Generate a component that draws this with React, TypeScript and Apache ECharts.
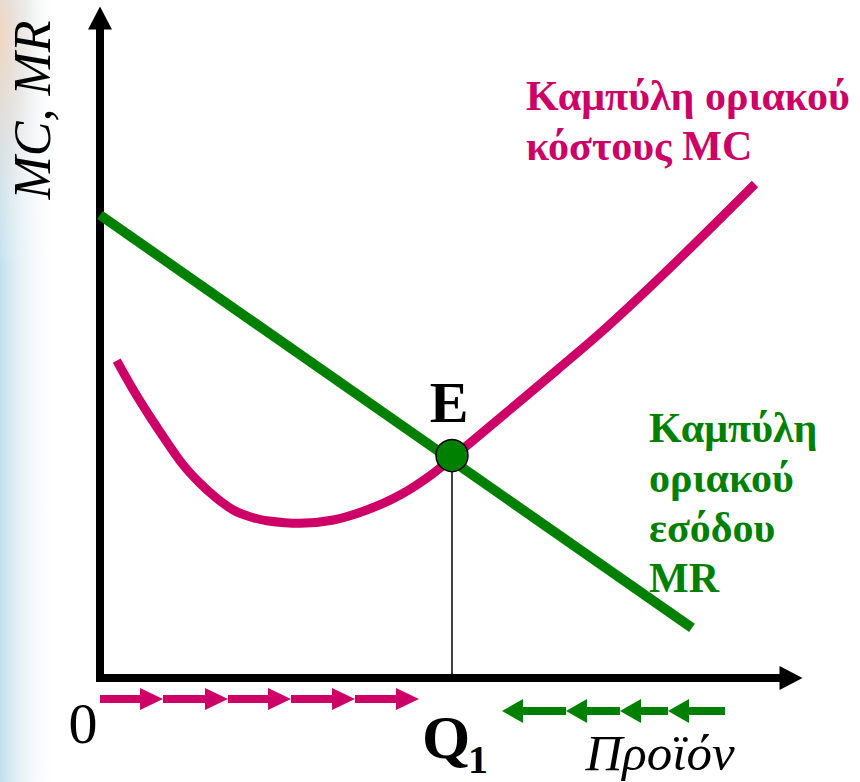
import React, { useEffect, useRef } from "react";
import * as echarts from "echarts";

// ---- data (abstract units: x 0..100, y 0..100) ----
const mrPoints: number[][] = [
  [0, 70.15],
  [85.67, 7.58],
];
const mcPoints: number[][] = [
  [2.42, 48.08],
  [4.82, 43.64],
  [7.24, 39.59],
  [9.65, 35.8],
  [12.05, 32.27],
  [14.47, 29.5],
  [16.89, 27.23],
  [19.29, 25.45],
  [21.71, 24.44],
  [24.12, 23.83],
  [28.94, 23.44],
  [33.76, 23.94],
  [38.6, 25.45],
  [43.42, 27.73],
  [48.23, 31.02],
  [53.55, 35.61],
  [59.77, 41.06],
  [66.14, 46.67],
  [73.37, 53.18],
  [82.92, 62.58],
  [94.79, 74.85],
];
const equilibrium: number[] = [50.94, 33.7];
const q1Value = 50.94;
// arrows: [from x, to x, y]
const costArrows: number[][] = [
  [0, 9.12, -3.18],
  [9.12, 18.52, -3.18],
  [18.52, 27.64, -3.18],
  [27.64, 36.9, -3.18],
  [36.9, 46.16, -3.18],
];
const revenueArrows: number[][] = [
  [90.45, 82.2, -5.0],
  [82.2, 75.25, -5.0],
  [75.25, 67.44, -5.0],
  [67.44, 58.18, -5.0],
];
const yAxisTitle = "MC, MR";
const xAxisTitle = "Προϊόν";
const originLabel = "0";
const qLabel = "Q";
const qSub = "1";
const eLabel = "E";
const mcLabelLines = ["Καμπύλη οριακού", "κόστους MC"];
const mrLabelLines = ["Καμπύλη", "οριακού", "εσόδου", "MR"];

const MAGENTA = "#CC0066";
const GREEN = "#008000";
const FONT = "Liberation Serif";

function arrowRenderer(color: string, head: number, half: number) {
  return (params: any, api: any) => {
    const x0 = api.value(0);
    const x1 = api.value(1);
    const y = api.value(2);
    const p0 = api.coord([x0, y]);
    const p1 = api.coord([x1, y]);
    const dir = Math.sign(p1[0] - p0[0]) || 1;
    const base = p1[0] - dir * head;
    return {
      type: "group",
      children: [
        {
          type: "line",
          shape: { x1: p0[0], y1: p0[1], x2: base, y2: p1[1] },
          style: { stroke: color, lineWidth: 8 },
        },
        {
          type: "polygon",
          shape: {
            points: [
              [p1[0], p1[1]],
              [base, p1[1] - half],
              [base, p1[1] + half],
            ],
          },
          style: { fill: color },
        },
      ],
    };
  };
}

function textEl(
  text: string,
  x: number,
  y: number,
  size: number,
  weight: string,
  fontStyle: string,
  fill: string,
  align = "center",
  extra: any = {}
) {
  return {
    type: "text",
    x,
    y,
    ...extra,
    style: {
      text,
      fontFamily: FONT,
      fontSize: size,
      fontWeight: weight,
      fontStyle,
      fill,
      align,
      verticalAlign: "middle",
    },
  };
}

export default function App() {
  const ref = useRef<HTMLDivElement>(null);
  useEffect(() => {
    document.body.style.margin = "0";
    const chart = echarts.init(ref.current!, null, { renderer: "svg" });
    const graphics: any[] = [
      {
        type: "rect",
        z: -10,
        shape: { x: 0, y: 0, width: 60, height: 782 },
        style: {
          fill: new echarts.graphic.LinearGradient(0, 0, 1, 0, [
            { offset: 0, color: "rgba(190,222,235,0.95)" },
            { offset: 0.35, color: "rgba(215,234,242,0.6)" },
            { offset: 1, color: "rgba(255,255,255,0)" },
          ]),
        },
      },
      {
        type: "rect",
        z: -9,
        shape: { x: 0, y: 0, width: 60, height: 260 },
        style: {
          fill: new echarts.graphic.RadialGradient(0, 0.15, 0.9, [
            { offset: 0, color: "rgba(244,214,190,0.95)" },
            { offset: 0.5, color: "rgba(235,225,220,0.5)" },
            { offset: 1, color: "rgba(255,255,255,0)" },
          ]),
        },
      },
      textEl(yAxisTitle, 32.5, 110, 52, "normal", "italic", "#000", "center", { rotation: Math.PI / 2 }),
      textEl(originLabel, 83, 723, 58, "normal", "normal", "#000"),
      textEl(qLabel, 446, 737, 62, "bold", "normal", "#000"),
      textEl(qSub, 478, 759.5, 40, "bold", "normal", "#000"),
      textEl(xAxisTitle, 660, 753, 51, "normal", "italic", "#000"),
      textEl(eLabel, 449, 402.5, 58, "bold", "normal", "#000"),
      ...mcLabelLines.map((t, i) => textEl(t, 526, 96 + i * 50, 42, "bold", "normal", MAGENTA, "left")),
      ...mrLabelLines.map((t, i) => textEl(t, 649, 428 + i * 50, 42, "bold", "normal", GREEN, "left")),
    ];
    chart.setOption({
      animation: false,
      backgroundColor: "#ffffff",
      grid: { left: 100, right: 69, top: 18, bottom: 104 },
      xAxis: {
        type: "value",
        min: 0,
        max: 100,
        axisLine: {
          show: true,
          onZero: false,
          symbol: ["none", "triangle"],
          symbolSize: [24, 23],
          lineStyle: { color: "#000", width: 8, cap: "square" },
        },
        axisTick: { show: false },
        axisLabel: { show: false },
        splitLine: { show: false },
      },
      yAxis: {
        type: "value",
        min: 0,
        max: 100,
        axisLine: {
          show: true,
          onZero: false,
          symbol: ["none", "triangle"],
          symbolSize: [24, 23],
          lineStyle: { color: "#000", width: 8, cap: "square" },
        },
        axisTick: { show: false },
        axisLabel: { show: false },
        splitLine: { show: false },
      },
      series: [
        {
          type: "line",
          data: [
            [q1Value, 0],
            [q1Value, equilibrium[1]],
          ],
          symbol: "none",
          lineStyle: { color: "#000", width: 1.5 },
          z: 2,
        },
        {
          type: "line",
          data: mrPoints,
          symbol: "none",
          lineStyle: { color: GREEN, width: 10, cap: "butt" },
          z: 3,
        },
        {
          type: "line",
          data: mcPoints,
          smooth: 0.35,
          symbol: "none",
          lineStyle: { color: MAGENTA, width: 9, cap: "butt", join: "round" },
          z: 4,
        },
        {
          type: "scatter",
          data: [equilibrium],
          symbolSize: 32,
          itemStyle: { color: GREEN, borderColor: "#000", borderWidth: 1.5, opacity: 1 },
          z: 5,
        },
        {
          type: "custom",
          clip: false,
          data: costArrows,
          encode: { x: [0, 1], y: 2 },
          renderItem: arrowRenderer(MAGENTA, 23, 11),
          z: 5,
        },
        {
          type: "custom",
          clip: false,
          data: revenueArrows,
          encode: { x: [0, 1], y: 2 },
          renderItem: arrowRenderer(GREEN, 21, 12),
          z: 5,
        },
      ],
      graphic: graphics,
    });
    return () => chart.dispose();
  }, []);
  return <div ref={ref} style={{ width: 860, height: 782 }} />;
}
